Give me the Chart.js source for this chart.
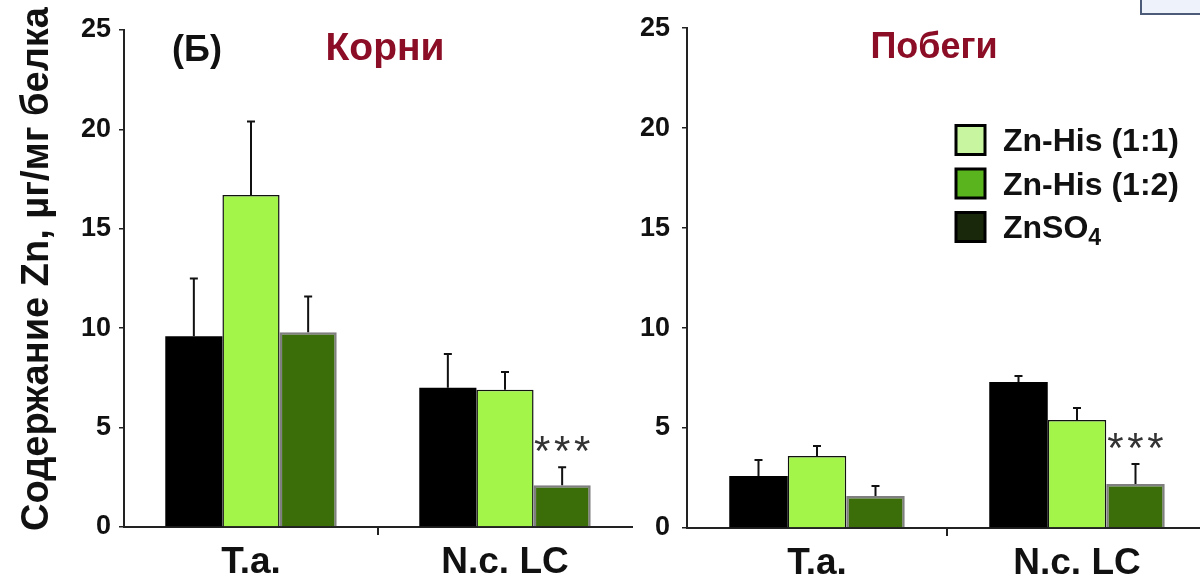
<!DOCTYPE html>
<html>
<head>
<meta charset="utf-8">
<script src="https://cdn.jsdelivr.net/npm/chart.js@4.4.0/dist/chart.umd.min.js"></script>
<style>
  html, body { margin: 0; padding: 0; background: #fff; width: 1200px; height: 582px; overflow: hidden; }
  .panel { position: absolute; top: 0; height: 582px; }
  #leftBox { left: 0; width: 640px; }
  #rightBox { left: 600px; width: 620px; }
  .corner { position: absolute; left: 1140px; top: -3px; width: 70px; height: 14px; border: 2px solid #4b5b78; background: #eef3fb; }
</style>
</head>
<body>
<div class="panel" id="leftBox"><canvas id="chartRoots"></canvas></div>
<div class="panel" id="rightBox"><canvas id="chartShoots"></canvas></div>
<div class="corner"></div>
<script>
const categories = ['T.a.', 'N.c. LC'];
const seriesNames = ['ZnSO₄', 'Zn-His (1:1)', 'Zn-His (1:2)'];
const yTicks = [0, 5, 10, 15, 20, 25];
const yTitle = 'Содержание Zn, µг/мг белка';
const panelLetter = '(Б)';
const panelTitles = ['Корни', 'Побеги'];
const legendLabels = ['Zn-His (1:1)', 'Zn-His (1:2)', 'ZnSO₄'];

// Корни
const rootsZnSO4 = [9.6, 7.0];
const rootsHis11 = [16.7, 6.9];
const rootsHis12 = [9.8, 2.1];
const rootsErrZnSO4 = [2.9, 1.7];
const rootsErrHis11 = [3.7, 0.9];
const rootsErrHis12 = [1.8, 0.9];
const rootsSigHis12 = ['', '***'];

// Побеги
const shootsZnSO4 = [2.6, 7.3];
const shootsHis11 = [3.6, 5.4];
const shootsHis12 = [1.6, 2.2];
const shootsErrZnSO4 = [0.8, 0.3];
const shootsErrHis11 = [0.5, 0.6];
const shootsErrHis12 = [0.5, 1.0];
const shootsSigHis12 = ['', '***'];

const FONT = "'Liberation Sans', Arial, sans-serif";

function makeDatasets(v0, v1, v2, e0, e1, e2, sig) {
    return [
        { label: seriesNames[0], data: v0, errors: e0, backgroundColor: '#000000', borderWidth: 0 },
        { label: seriesNames[1], data: v1, errors: e1, backgroundColor: '#a3f54a', borderColor: '#111111', borderWidth: 1.5 },
        { label: seriesNames[2], data: v2, errors: e2, sig: sig, backgroundColor: '#3b6e08', borderColor: '#7f7f7f', borderWidth: 2.5 },
    ];
}

// error bars (upper only) + significance marks
const errorBars = {
    id: 'errorBars',
    afterDatasetsDraw(chart) {
        const ctx = chart.ctx;
        const y = chart.scales.y;
        ctx.save();
        chart.data.datasets.forEach((ds, di) => {
            chart.getDatasetMeta(di).data.forEach((bar, i) => {
                const top = y.getPixelForValue(ds.data[i] + ds.errors[i]);
                ctx.strokeStyle = '#111';
                ctx.lineWidth = 2;
                ctx.beginPath();
                ctx.moveTo(bar.x, bar.y);
                ctx.lineTo(bar.x, top);
                ctx.moveTo(bar.x - 4, top);
                ctx.lineTo(bar.x + 4, top);
                ctx.stroke();
                if (ds.sig && ds.sig[i]) {
                    ctx.fillStyle = '#333';
                    ctx.font = '42px ' + FONT;
                    ctx.textAlign = 'center';
                    ctx.textBaseline = 'alphabetic';
                    const n = ds.sig[i].length;
                    for (let k = 0; k < n; k++) {
                        ctx.fillText('*', bar.x + (k - (n - 1) / 2) * 20, top - 2);
                    }
                }
            });
        });
        ctx.restore();
    }
};

// free text (panel letter, titles, axis title)
const panelText = {
    id: 'panelText',
    afterDraw(chart, args, opts) {
        const ctx = chart.ctx;
        (opts.items || []).forEach(it => {
            ctx.save();
            ctx.textAlign = 'center';
            ctx.textBaseline = 'middle';
            ctx.font = it.font;
            ctx.fillStyle = it.color;
            ctx.translate(it.x, it.y);
            if (it.rotate) ctx.rotate(it.rotate);
            ctx.fillText(it.text, 0, 0);
            ctx.restore();
        });
    }
};

// legend drawn by hand (subscript 4)
const legendBox = {
    id: 'legendBox',
    afterDraw(chart, args, opts) {
        if (!opts.show) return;
        const ctx = chart.ctx;
        ctx.save();
        legendLabels.forEach((lab, i) => {
            const cy = opts.y + i * opts.dy;
            ctx.fillStyle = opts.colors[i];
            ctx.fillRect(opts.x, cy - opts.size / 2, opts.size, opts.size);
            ctx.strokeStyle = '#000';
            ctx.lineWidth = 3;
            ctx.strokeRect(opts.x, cy - opts.size / 2, opts.size, opts.size);
            ctx.fillStyle = '#111';
            ctx.textAlign = 'left';
            ctx.textBaseline = 'alphabetic';
            ctx.font = 'bold 32px ' + FONT;
            let txt = lab, sub = '';
            if (lab.endsWith('₄')) { txt = lab.slice(0, -1); sub = '4'; }
            const tx = opts.x + opts.size + 18;
            ctx.fillText(txt, tx, cy + 11);
            if (sub) {
                const w = ctx.measureText(txt).width;
                ctx.font = 'bold 23px ' + FONT;
                ctx.fillText(sub, tx + w, cy + 18);
            }
        });
        ctx.restore();
    }
};

function makeChart(id, datasets, o) {
    return new Chart(document.getElementById(id), {
        type: 'bar',
        data: { labels: categories, datasets: datasets },
        plugins: [errorBars, panelText, legendBox],
        options: {
            responsive: true,
            maintainAspectRatio: false,
            animation: false,
            layout: { padding: { top: o.top, right: o.right, left: 0, bottom: 0 } },
            datasets: { bar: { categoryPercentage: 0.675, barPercentage: 1 } },
            plugins: {
                legend: { display: false },
                tooltip: { enabled: false },
                panelText: { items: o.texts },
                legendBox: o.legend,
            },
            scales: {
                x: {
                    grid: {
                        offset: true, drawOnChartArea: false, tickLength: 8, lineWidth: 2,
                        color: c => (c.index === 1 ? '#222' : 'rgba(0,0,0,0)'),
                    },
                    border: { color: '#222', width: 2 },
                    ticks: { color: '#111', padding: 6, font: { family: FONT, size: 37, weight: 'bold' } },
                    afterFit: s => { s.height = o.xHeight; },
                },
                y: {
                    min: 0,
                    max: 25,
                    afterBuildTicks: s => { s.ticks = yTicks.map(v => ({ value: v })); },
                    grid: { drawOnChartArea: false, tickLength: 5, lineWidth: 1.5, color: '#222' },
                    border: { color: '#222', width: 2 },
                    ticks: { color: '#111', padding: o.tickPad, font: { family: FONT, size: 27, weight: 'bold' } },
                    afterFit: s => { s.width = o.yWidth; },
                },
            },
        },
    });
}

makeChart('chartRoots',
    makeDatasets(rootsZnSO4, rootsHis11, rootsHis12, rootsErrZnSO4, rootsErrHis11, rootsErrHis12, rootsSigHis12),
    {
        top: 30, right: 8, xHeight: 55, yWidth: 124, tickPad: 8,
        texts: [
            { text: yTitle, x: 38, y: 269, rotate: -Math.PI / 2, color: '#111', font: 'bold 38px ' + FONT },
            { text: panelLetter, x: 197, y: 51, color: '#111', font: 'bold 36px ' + FONT },
            { text: panelTitles[0], x: 385, y: 49, color: '#8b0d26', font: 'bold 39px ' + FONT },
        ],
        legend: { show: false },
    });

makeChart('chartShoots',
    makeDatasets(shootsZnSO4, shootsHis11, shootsHis12, shootsErrZnSO4, shootsErrHis11, shootsErrHis12, shootsSigHis12),
    {
        top: 22, right: 13, xHeight: 54, yWidth: 87, tickPad: 12,
        texts: [
            { text: panelTitles[1], x: 334, y: 48, color: '#8b0d26', font: 'bold 36px ' + FONT },
        ],
        legend: { show: true, x: 356, y: 140, dy: 43.5, size: 29, colors: ['#c8f5a0', '#5ab41e', '#19280a'] },
    });
</script>
</body>
</html>
